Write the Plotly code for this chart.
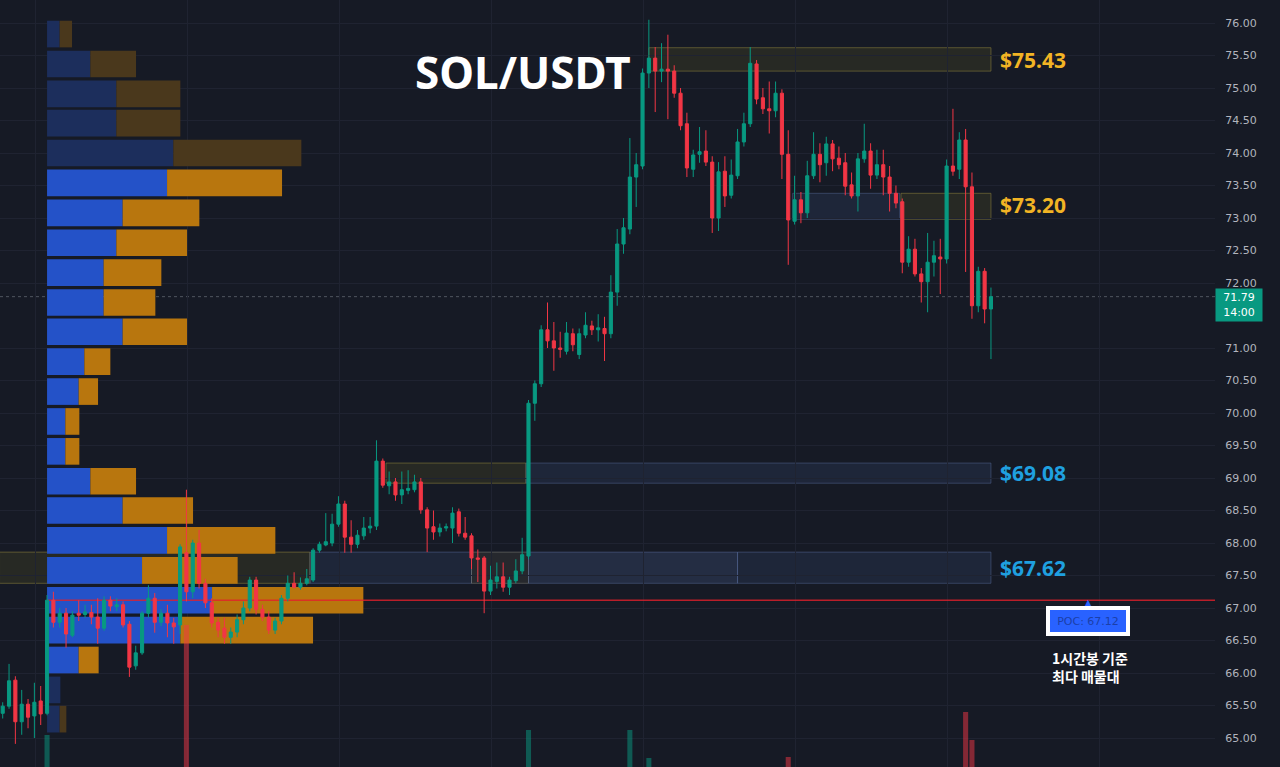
import plotly.graph_objects as go

# ---------------- data (1h candles, SOL/USDT) ----------------
opens = [65.38, 65.49, 65.89, 65.25, 65.52, 65.34, 65.57, 65.38, 67.12, 66.78,
         66.92, 66.58, 66.92, 66.90, 66.93, 66.86, 66.69, 67.12, 67.02, 67.05,
         66.75, 66.11, 66.31, 66.92, 67.15, 66.78, 66.92, 66.77, 66.74, 67.85,
         67.25, 68.00, 67.38, 67.08, 66.78, 66.69, 66.55, 66.63, 66.82, 67.00,
         67.43, 66.98, 66.86, 66.66, 66.80, 67.15, 67.38, 67.32, 67.38, 67.43,
         67.89, 67.97, 68.00, 68.29, 68.60, 68.09, 67.98, 68.11, 68.23, 68.26,
         69.26, 68.88, 68.94, 68.74, 68.81, 68.82, 68.94, 68.51, 68.25, 68.17,
         68.23, 68.23, 68.48, 68.15, 68.11, 67.77, 67.77, 67.26, 67.41, 67.48,
         67.32, 67.42, 67.57, 67.80, 70.15, 70.45, 71.28, 71.11, 71.00, 70.95,
         71.22, 70.90, 71.20, 71.34, 71.28, 71.30, 71.22, 71.86, 72.60, 72.83,
         73.63, 73.80, 75.23, 75.46, 75.26, 75.29, 75.26, 74.92, 74.45, 73.75,
         73.98, 74.03, 73.86, 73.00, 73.72, 73.35, 73.65, 74.17, 74.45, 75.37,
         74.85, 74.68, 74.65, 74.92, 73.98, 72.95, 73.28, 73.08, 73.65, 73.98,
         73.85, 74.14, 73.92, 73.85, 73.51, 73.34, 73.91, 74.03, 73.66, 73.82,
         73.63, 73.38, 73.25, 72.32, 72.52, 72.14, 72.02, 72.32, 72.40, 72.37,
         73.80, 73.75, 74.20, 73.48, 71.65, 72.18, 71.60]
highs = [65.55, 66.14, 65.95, 65.74, 65.60, 65.85, 65.80, 67.20, 67.25, 67.00,
         67.00, 66.95, 67.12, 67.05, 67.05, 67.15, 67.18, 67.18, 67.15, 67.10,
         66.80, 66.42, 66.95, 67.35, 67.23, 66.98, 67.05, 66.85, 67.98, 68.82,
         68.05, 68.20, 67.45, 67.15, 66.85, 66.85, 66.70, 66.90, 67.10, 67.48,
         67.48, 67.05, 66.95, 66.85, 67.20, 67.50, 67.55, 67.47, 67.60, 67.92,
         68.02, 68.46, 68.45, 68.72, 68.65, 68.35, 68.20, 68.40, 68.40, 69.58,
         69.30, 69.10, 69.00, 69.10, 69.12, 69.05, 69.00, 68.55, 68.50, 68.30,
         68.30, 68.55, 68.53, 68.40, 68.15, 67.90, 67.80, 67.65, 67.70, 67.70,
         67.48, 67.75, 68.08, 70.20, 70.50, 71.35, 71.70, 71.40, 71.25, 71.40,
         71.30, 71.30, 71.55, 71.42, 71.52, 71.48, 72.12, 72.83, 73.00, 74.23,
         74.00, 75.30, 76.05, 75.63, 75.69, 75.82, 75.35, 75.00, 74.62, 74.05,
         74.40, 74.35, 73.95, 73.86, 73.95, 73.90, 74.37, 74.62, 75.63, 75.43,
         75.00, 75.10, 75.10, 74.98, 74.35, 73.65, 73.40, 73.88, 74.32, 74.15,
         74.25, 74.20, 74.10, 74.00, 73.70, 74.00, 74.45, 74.15, 74.05, 74.05,
         73.80, 73.50, 73.30, 72.72, 72.68, 72.23, 72.77, 72.65, 72.68, 73.90,
         74.68, 74.32, 74.37, 73.70, 72.25, 72.23, 71.93]
lows = [65.30, 65.45, 64.91, 65.05, 65.15, 65.00, 65.20, 65.35, 66.70, 66.70,
        66.39, 66.55, 66.80, 66.85, 66.75, 66.45, 66.65, 66.95, 66.95, 66.70,
        65.94, 66.05, 66.28, 66.85, 66.62, 66.72, 66.55, 66.45, 66.60, 67.10,
        67.15, 67.30, 67.00, 66.70, 66.55, 66.45, 66.45, 66.55, 66.75, 66.95,
        66.90, 66.80, 66.60, 66.60, 66.75, 67.10, 67.30, 67.28, 67.35, 67.40,
        67.85, 67.95, 67.95, 68.25, 67.85, 67.85, 67.92, 68.05, 68.15, 68.20,
        68.85, 68.75, 68.65, 68.60, 68.75, 68.78, 68.45, 67.86, 68.05, 68.10,
        68.18, 68.00, 68.10, 68.05, 67.60, 67.40, 66.92, 67.20, 67.30, 67.25,
        67.20, 67.38, 67.52, 67.75, 69.88, 70.40, 71.00, 70.65, 70.85, 70.90,
        70.95, 70.83, 71.15, 71.20, 71.10, 70.80, 71.15, 71.65, 72.45, 72.75,
        73.17, 73.75, 75.00, 74.63, 75.09, 74.52, 74.85, 74.35, 73.63, 73.63,
        73.85, 73.80, 72.77, 72.80, 73.17, 73.30, 73.60, 74.10, 74.40, 74.75,
        74.60, 74.30, 74.55, 73.60, 72.28, 72.90, 72.92, 73.00, 73.60, 73.55,
        73.65, 73.72, 73.75, 73.35, 73.30, 73.10, 73.85, 73.45, 73.60, 73.35,
        73.10, 73.15, 72.15, 72.25, 72.10, 71.70, 71.55, 72.10, 71.83, 72.30,
        73.65, 73.60, 72.17, 71.45, 71.55, 71.38, 70.83]
closes = [65.49, 65.88, 65.25, 65.52, 65.32, 65.55, 65.37, 67.12, 66.78, 66.92,
          66.60, 66.89, 66.89, 66.94, 66.86, 66.69, 67.12, 67.03, 67.05, 66.74,
          66.09, 66.31, 66.92, 67.15, 66.78, 66.92, 66.77, 66.71, 67.94, 67.25,
          68.00, 67.38, 67.08, 66.77, 66.66, 66.55, 66.63, 66.82, 67.00, 67.43,
          66.98, 66.86, 66.66, 66.80, 67.15, 67.38, 67.32, 67.38, 67.45, 67.89,
          67.98, 68.02, 68.29, 68.60, 68.09, 67.98, 68.12, 68.23, 68.26, 69.26,
          68.89, 68.94, 68.74, 68.82, 68.84, 68.94, 68.51, 68.23, 68.17, 68.23,
          68.25, 68.46, 68.15, 68.09, 67.77, 67.75, 67.26, 67.43, 67.48, 67.32,
          67.43, 67.57, 67.82, 70.15, 70.45, 71.28, 71.11, 71.00, 70.98, 71.23,
          71.05, 71.22, 71.35, 71.28, 71.31, 71.22, 71.86, 72.60, 72.85, 73.63,
          73.82, 75.23, 75.46, 75.26, 75.29, 75.26, 74.92, 74.42, 73.77, 73.97,
          74.02, 73.86, 73.00, 73.71, 73.34, 73.66, 74.17, 74.45, 75.38, 74.83,
          74.68, 74.65, 74.92, 73.98, 72.97, 73.28, 73.08, 73.65, 73.98, 73.82,
          74.14, 73.91, 73.82, 73.49, 73.34, 73.91, 74.03, 73.66, 73.82, 73.63,
          73.38, 73.23, 72.32, 72.52, 72.14, 72.02, 72.32, 72.42, 72.37, 73.80,
          73.72, 74.20, 73.48, 71.65, 72.18, 71.60, 71.79]
bar_index = list(range(len(opens)))

# volume histogram (only the bars tall enough to appear in the crop), K SOL
vol_bar_index = [7, 29, 83, 99, 102, 124, 152, 153]
vol_bar_value = [332, 442, 337, 337, 309, 310, 355, 327]

# fixed-range volume profile (starts at bar 7), K SOL per price row
vp_row_price = [75.83, 75.37, 74.91, 74.46, 74.00, 73.54, 73.08, 72.62, 72.16, 71.70,
                71.25, 70.79, 70.33, 69.87, 69.41, 68.95, 68.50, 68.04, 67.58, 67.12,
                66.66, 66.20, 65.74, 65.29]
vp_up_vol = [1.26, 4.33, 6.93, 6.93, 12.63, 12.00, 7.56, 6.93, 5.66, 5.66,
             7.56, 3.73, 3.16, 1.83, 1.83, 4.33, 7.56, 12.00, 9.50, 16.50,
             13.33, 3.16, 1.33, 1.26]
vp_down_vol = [1.24, 4.57, 6.40, 6.40, 12.80, 11.50, 7.67, 7.07, 5.77, 5.17,
               6.44, 2.60, 1.94, 1.40, 1.40, 4.57, 7.04, 10.83, 9.56, 15.13,
               13.27, 2.00, 0.00, 0.67]
vp_value_area = [False] * 5 + [True] * 17 + [False] * 2
vp_start_bar = 7

poc_price = 67.12
last_price = 71.79
last_time = "14:00"
price_ticks = [65.0, 65.5, 66.0, 66.5, 67.0, 67.5, 68.0, 68.5, 69.0, 69.5, 70.0,
               70.5, 71.0, 72.0, 72.5, 73.0, 73.5, 74.0, 74.5, 75.0, 75.5, 76.0]

level_prices = [75.43, 73.20, 69.08, 67.62]
level_kind = ["resistance", "resistance", "support", "support"]
# zone segments: (from bar, to bar, low, high, style)
zone_start = [102, 124.7, 141.8, 60.5, 82.6, -0.5, 48.5, 74, 83, 116]
zone_end = [156, 141.6, 156, 82.6, 156, 48.5, 74, 83, 116, 156]
zone_low = [75.26, 72.98, 72.98, 68.92, 68.92, 67.38, 67.38, 67.38, 67.38, 67.38]
zone_high = [75.62, 73.38, 73.38, 69.23, 69.23, 67.86, 67.86, 67.86, 67.86, 67.86]
zone_style = ["olive", "blue", "olive", "olive", "blue", "olive", "blue", "grey", "blue2", "blue"]

# ---------------- styling ----------------
BG = "#161a25"
GRID = "#1f2331"
UP = "#089981"
DN = "#f23645"
VP_UP = "#2452c8"
VP_DN = "#b8760e"
VP_UP_DIM = "#1c2e5c"
VP_DN_DIM = "#4a381c"
GOLD = "#f2b424"
SKY = "#1fa0e0"

PX_W = 1215.0
bar_px = 6.335
bar0_px = 2.7
x2_range = [(0 - bar0_px) / bar_px, (PX_W - bar0_px) / bar_px]
vp_px_per_unit = 10.0
vp_origin_px = bar0_px + bar_px * vp_start_bar
x_range = [-vp_origin_px / vp_px_per_unit, (PX_W - vp_origin_px) / vp_px_per_unit]
y_range = [64.554, 76.354]

fig = go.Figure()

up_cols = [VP_UP if v else VP_UP_DIM for v in vp_value_area]
dn_cols = [VP_DN if v else VP_DN_DIM for v in vp_value_area]
fig.add_trace(go.Bar(y=vp_row_price, x=vp_up_vol, orientation="h", width=0.41,
                     marker=dict(color=up_cols, line=dict(width=0)),
                     xaxis="x", yaxis="y", hoverinfo="skip"))
fig.add_trace(go.Bar(y=vp_row_price, x=vp_down_vol, base=vp_up_vol, orientation="h", width=0.41,
                     marker=dict(color=dn_cols, line=dict(width=0)),
                     xaxis="x", yaxis="y", hoverinfo="skip"))
fig.add_trace(go.Scatter(x=[0, x_range[1]], y=[poc_price, poc_price], mode="lines",
                         line=dict(color="#e3202b", width=1.6), opacity=0.8,
                         xaxis="x", yaxis="y", hoverinfo="skip"))

vol_cols = ["rgba(8,153,129,0.5)" if closes[i] >= opens[i] else "rgba(242,54,69,0.5)"
            for i in vol_bar_index]
fig.add_trace(go.Bar(x=vol_bar_index, y=vol_bar_value, width=0.8,
                     marker=dict(color=vol_cols, line=dict(width=0)),
                     xaxis="x2", yaxis="y2", hoverinfo="skip"))

fig.add_trace(go.Candlestick(x=bar_index, open=opens, high=highs, low=lows, close=closes,
                             increasing=dict(line=dict(color=UP, width=1), fillcolor=UP),
                             decreasing=dict(line=dict(color=DN, width=1), fillcolor=DN),
                             whiskerwidth=0, xaxis="x2", yaxis="y", hoverinfo="skip"))

zone_fill = {"olive": "rgba(80,75,35,0.30)", "blue": "rgba(60,80,130,0.22)",
             "grey": "rgba(70,70,60,0.35)", "blue2": "rgba(70,90,140,0.30)"}
zone_line = {"olive": "rgba(140,130,60,0.55)", "blue": "rgba(90,110,160,0.45)",
             "grey": "rgba(140,140,130,0.45)", "blue2": "rgba(90,110,160,0.45)"}
shapes = []
for s, e, lo, hi, st in zip(zone_start, zone_end, zone_low, zone_high, zone_style):
    shapes.append(dict(type="rect", xref="x2", yref="y", x0=s, x1=e, y0=lo, y1=hi,
                       fillcolor=zone_fill[st], line=dict(color=zone_line[st], width=1),
                       layer="below"))
shapes.append(dict(type="line", xref="paper", yref="y", x0=0, x1=1, y0=last_price, y1=last_price,
                   line=dict(color="rgba(130,134,146,0.55)", width=1, dash="dot"), layer="below"))

annotations = []
annotations.append(dict(xref="paper", yref="paper", x=523 / PX_W, y=1 - 72 / 767,
                        xanchor="center", yanchor="middle",
                        text="<b>SOL/USDT</b>", showarrow=False,
                        font=dict(family="Noto Sans", size=44, color="white")))
for p, k in zip(level_prices, level_kind):
    annotations.append(dict(xref="paper", yref="y", x=998 / PX_W, y=p, xanchor="left",
                            text="<b>$%.2f</b>" % p, showarrow=False,
                            font=dict(family="Noto Sans", size=21,
                                      color=GOLD if k == "resistance" else SKY)))
annotations.append(dict(xref="paper", yref="y", x=1.0, y=last_price - 0.13, xanchor="left",
                        text="%.2f<br>%s" % (last_price, last_time), showarrow=False,
                        bgcolor=UP, width=44, height=30, borderpad=1,
                        font=dict(family="DejaVu Sans", size=11, color="white")))
annotations.append(dict(xref="paper", yref="paper", x=1088 / PX_W, y=1 - 621 / 767,
                        xanchor="center", yanchor="middle",
                        text="POC: %.2f" % poc_price, showarrow=False,
                        bgcolor="#2962ff", bordercolor="white", borderwidth=4, borderpad=3,
                        width=70, height=16,
                        font=dict(family="DejaVu Sans", size=11, color="#1c3fa8")))
annotations.append(dict(xref="paper", yref="paper", x=1088 / PX_W, y=1 - 602 / 767,
                        xanchor="center", yanchor="middle",
                        text="▲", showarrow=False,
                        font=dict(family="DejaVu Sans", size=8, color="#2962ff")))
annotations.append(dict(xref="paper", yref="paper", x=1050 / PX_W, y=1 - 667 / 767,
                        xanchor="left", yanchor="middle", align="left",
                        text="<b>1시간봉 기준<br>최다 매물대</b>", showarrow=False,
                        font=dict(family="Noto Sans CJK KR", size=14, color="white")))

fig.update_layout(
    width=1280, height=767,
    margin=dict(l=0, r=65, t=0, b=0),
    paper_bgcolor=BG, plot_bgcolor=BG,
    showlegend=False, barmode="overlay",
    xaxis=dict(range=x_range, visible=False, fixedrange=True),
    xaxis2=dict(overlaying="x", anchor="y", range=x2_range, showticklabels=False,
                showgrid=True, gridcolor=GRID, gridwidth=1, tick0=5.1, dtick=24,
                zeroline=False, ticks="", rangeslider=dict(visible=False)),
    yaxis=dict(side="right", range=y_range, tickmode="array", tickvals=price_ticks,
               tickformat=".2f",
               showgrid=True, gridcolor=GRID, zeroline=False,
               ticks="outside", ticklen=7, tickcolor=BG,
               tickfont=dict(family="DejaVu Sans", size=11, color="#b2b5be")),
    yaxis2=dict(overlaying="y", range=[300, 1067], visible=False),
    shapes=shapes, annotations=annotations,
)

fig.write_html("out.html")
